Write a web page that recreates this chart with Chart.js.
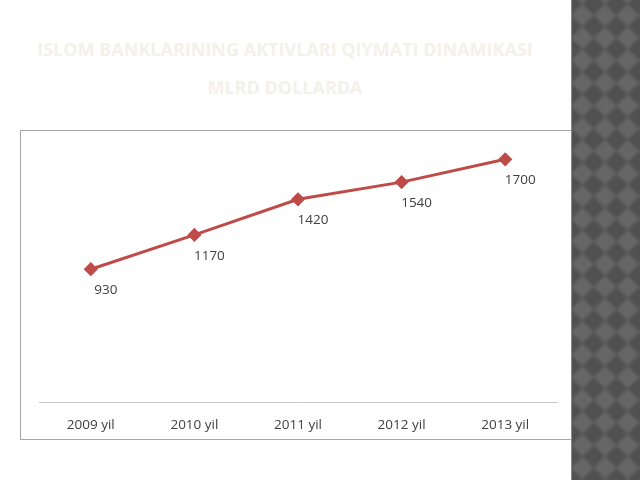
<!DOCTYPE html>
<html><head><meta charset="utf-8">
<script src="https://cdn.jsdelivr.net/npm/chart.js@4"></script>
<style>
html,body{margin:0;padding:0;width:640px;height:480px;background:#fff;overflow:hidden;font-family:"Open Sans",sans-serif;}
#t1,#t2{position:absolute;left:0;width:570px;text-align:center;color:#f3f1ea;font-weight:bold;font-size:18px;}
#t1{top:37px;}
#t2{top:75px;}
#box{position:absolute;left:20px;top:130px;width:551px;height:308px;border:1px solid #a6a6a6;background:#fff;}
#strip{position:absolute;left:571px;top:0;width:69px;height:480px;overflow:hidden;background:#585858;border-left:1px solid #8a8a8a;}
#pat{position:absolute;left:-200px;top:-200px;width:500px;height:900px;transform:rotate(45deg);
background:repeating-conic-gradient(#505050 0 25%,#666 0 50%);background-size:32px 32px;filter:blur(1.5px);}
</style></head>
<body>
<div id="t1">ISLOM BANKLARINING  AKTIVLARI QIYMATI  DINAMIKASI</div>
<div id="t2">MLRD DOLLARDA</div>
<div id="box"><canvas id="c" width="551" height="308"></canvas></div>
<div id="strip"><div id="pat"></div></div>
<script>
const categories = ["2009 yil","2010 yil","2011 yil","2012 yil","2013 yil"];
const values = [930,1170,1420,1540,1700];

const labelPlugin = {
  id:'vals',
  afterDatasetsDraw(chart){
    const ctx = chart.ctx;
    const meta = chart.getDatasetMeta(0);
    ctx.save();
    ctx.font = '13.5px "Open Sans"';
    ctx.fillStyle = '#404040';
    ctx.textAlign = 'center';
    ctx.textBaseline = 'middle';
    meta.data.forEach((p,i)=>{
      ctx.fillText(String(values[i]), p.x+15, p.y+21);
    });
    ctx.restore();
  }
};

new Chart(document.getElementById('c'),{
  type:'line',
  data:{labels:categories,datasets:[{
    data:values,borderColor:'#be4b48',backgroundColor:'#be4b48',borderWidth:3,
    pointStyle:'rectRot',pointRadius:5,pointHoverRadius:5,tension:0
  }]},
  options:{
    responsive:false,animation:false,
    layout:{padding:{left:18,right:15,top:14,bottom:0}},
    plugins:{legend:{display:false},tooltip:{enabled:false},title:{display:false}},
    scales:{
      x:{offset:true,grid:{display:false,drawTicks:false},border:{display:true,color:'#c8c8c8',width:1},
         ticks:{color:'#404040',font:{family:'"Open Sans"',size:13.5},padding:15},
         afterFit(s){ s.height = 37; }},
      y:{display:false,min:0,max:1800}
    }
  },
  plugins:[labelPlugin]
});
</script>
</body></html>
